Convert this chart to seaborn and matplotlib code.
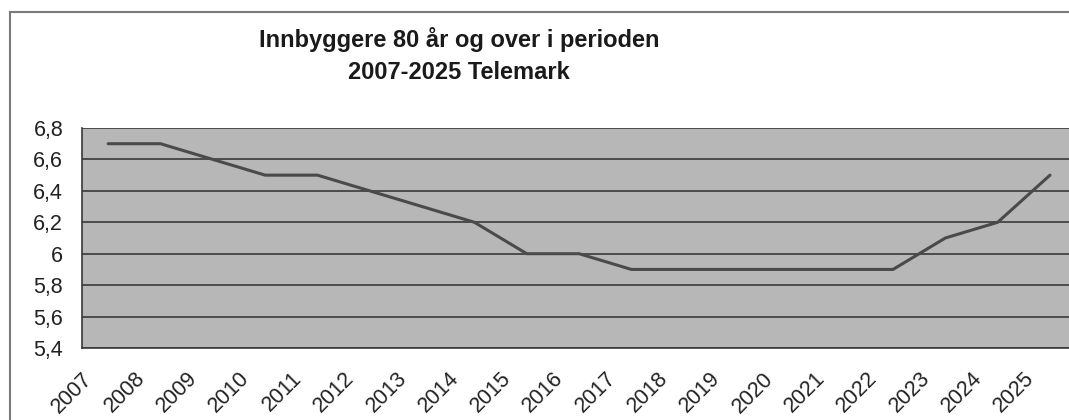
import pandas as pd
import matplotlib
matplotlib.use('Agg')
import matplotlib.pyplot as plt
import seaborn as sns
from matplotlib.patches import Rectangle

# data
years = [2007, 2008, 2009, 2010, 2011, 2012, 2013, 2014, 2015, 2016,
         2017, 2018, 2019, 2020, 2021, 2022, 2023, 2024, 2025]
values = [6.7, 6.7, 6.6, 6.5, 6.5, 6.4, 6.3, 6.2, 6.0, 6.0,
          5.9, 5.9, 5.9, 5.9, 5.9, 5.9, 6.1, 6.2, 6.5]
y_ticks = [5.4, 5.6, 5.8, 6.0, 6.2, 6.4, 6.6, 6.8]
y_labels = ['5,4', '5,6', '5,8', '6', '6,2', '6,4', '6,6', '6,8']
title = 'Innbyggere 80 år og over i perioden\n2007-2025 Telemark'

sns.set_style('white')
plt.rcParams['font.family'] = ['Liberation Sans', 'DejaVu Sans']

df = pd.DataFrame({'year': years, 'value': values})
# Excel-style category axis: points sit between tick marks
df['pos'] = df['year'] + 0.5

fig = plt.figure(figsize=(10.69, 4.20), dpi=100)
fig.patch.set_facecolor('white')

# outer chart border
fig.patches.append(Rectangle((10 / 1069, -0.1), 1.2, 1 - 12 / 420 + 0.1,
                             transform=fig.transFigure, fill=False,
                             edgecolor='#7a7a7a', linewidth=1.5))

ax = fig.add_axes([82 / 1069, 1 - 348 / 420, 0.93, 220 / 420])
ax.set_facecolor('#b7b7b7')

sns.lineplot(data=df, x='pos', y='value', ax=ax, color='#4a4a4a', linewidth=2.2)

ax.set_xlim(2007, 2026)
ax.set_ylim(5.4, 6.8)
ax.set_yticks(y_ticks)
ax.set_yticklabels(y_labels, fontsize=15.5, color='#222222')
ax.set_xticks(years)
ax.set_xticklabels([str(y) for y in years], rotation=45, ha='right',
                   rotation_mode='anchor', fontsize=15.5, color='#222222')
ax.set_xlabel('')
ax.set_ylabel('')

ax.grid(axis='y', color='#3a3a3a', linewidth=1.2)
ax.grid(axis='x', visible=False)
ax.set_axisbelow(True)

for side in ['top', 'right']:
    ax.spines[side].set_visible(False)
for side in ['left', 'bottom']:
    ax.spines[side].set_color('#3a3a3a')
    ax.spines[side].set_linewidth(1.2)

ax.tick_params(axis='both', direction='out', length=4.5, width=1.2,
               color='#3a3a3a')
ax.tick_params(axis='y', pad=9)
ax.tick_params(axis='x', pad=10)

fig.text(459 / 1069, 1 - 55.5 / 420, title, ha='center', va='center',
         fontsize=17, fontweight='bold', color='#1a1a1a', linespacing=1.45)

fig.savefig('out.png', dpi=100, facecolor=fig.get_facecolor())
